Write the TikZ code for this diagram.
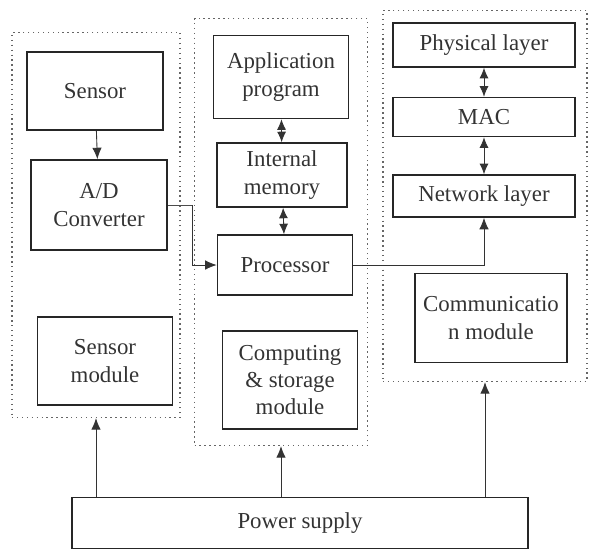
\documentclass[tikz,border=0pt]{standalone}
\usepackage{fontspec}
\setmainfont{Liberation Serif}
\usetikzlibrary{arrows.meta}

\tikzset{
  blk/.style={draw=black!85, line width=0.9pt, align=center, inner sep=1pt,
    font=\fontsize{13}{15.5}\selectfont, text=black!80},
  grp/.style={draw=black!60, dotted, line width=0.8pt, inner sep=0pt},
  arr/.style={-{Latex[length=2.3mm,width=1.9mm]}, line width=0.5pt, draw=black!80},
  darr/.style={{Latex[length=2.1mm,width=1.8mm]}-{Latex[length=2.1mm,width=1.8mm]}, line width=0.5pt, draw=black!80},
  wire/.style={line width=0.5pt, draw=black!70},
}

\begin{document}
\begin{tikzpicture}[x=0.02cm, y=-0.02cm]
  \useasboundingbox (0,0) rectangle (593,559);

  \node[grp, minimum width=3.36cm, minimum height=7.70cm] (grpsens) at (96,225) {};
  \node[grp, minimum width=3.46cm, minimum height=8.54cm] (grpcomp) at (281,232) {};
  \node[grp, minimum width=4.08cm, minimum height=7.42cm] (grpcomm) at (485,196) {};

  \node[blk, minimum width=2.72cm, minimum height=1.56cm] (sensor) at (95,91) {Sensor};
  \node[blk, minimum width=2.72cm, minimum height=1.80cm] (adc) at (99,205) {A/D\\Converter};
  \node[blk, minimum width=2.70cm, minimum height=1.76cm] (sensmod) at (105,361) {Sensor\\module};

  \node[blk, minimum width=2.70cm, minimum height=1.66cm] (app) at (281,77) {Application\\program};
  \node[blk, minimum width=2.60cm, minimum height=1.28cm] (mem) at (282,175) {Internal\\memory};
  \node[blk, minimum width=2.70cm, minimum height=1.20cm] (proc) at (285,265) {Processor};
  \node[blk, minimum width=2.70cm, minimum height=1.96cm] (comp) at (290,380) {Computing\\\& storage\\module};

  \node[blk, minimum width=3.64cm, minimum height=0.88cm] (phy) at (484,45) {Physical layer};
  \node[blk, minimum width=3.64cm, minimum height=0.78cm] (mac) at (484,117) {MAC};
  \node[blk, minimum width=3.64cm, minimum height=0.84cm] (net) at (484,196) {Network layer};
  \node[blk, minimum width=3.04cm, minimum height=1.78cm] (comm) at (491,318) {Communicatio\\n module};

  \node[blk, minimum width=9.12cm, minimum height=1.02cm] (power) at (300,523) {Power supply};

  \coordinate (bend) at (192,205);

  \draw[arr] (sensor) -- (adc);
  \draw[darr] (app) -- (mem);
  \draw[darr] (mem) -- (proc);
  \draw[darr] (phy) -- (mac);
  \draw[darr] (mac) -- (net);
  \draw[wire] (adc.east) -- (bend);
  \draw[arr] (bend) |- (proc.west);
  \draw[arr] (proc.east) -| (net.south);

  \draw[arr] (grpsens.south |- power.north) -- (grpsens.south);
  \draw[arr] (grpcomp.south |- power.north) -- (grpcomp.south);
  \draw[arr] (grpcomm.south |- power.north) -- (grpcomm.south);
\end{tikzpicture}
\end{document}
